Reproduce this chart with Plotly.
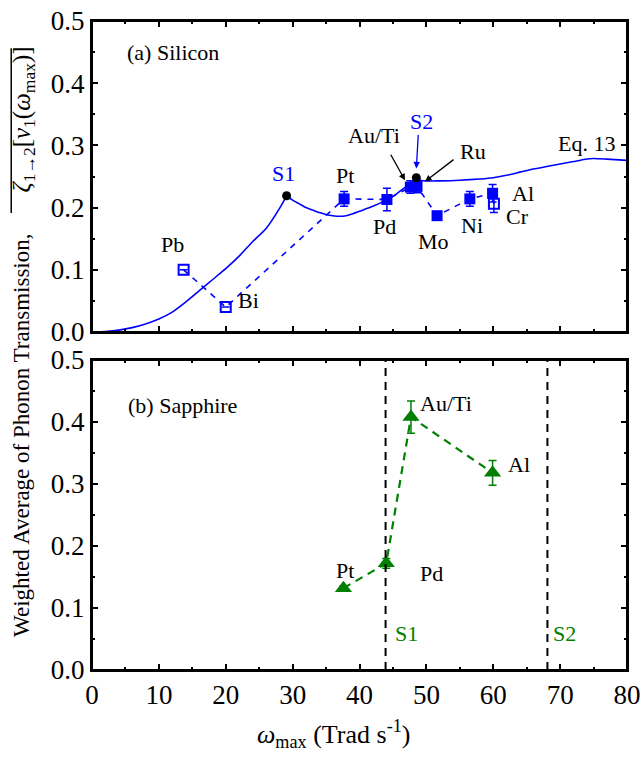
import plotly.graph_objects as go

FONT = "Liberation Serif, Times New Roman, serif"
BLUE = "#0000FF"
GREEN = "#008000"

# ---- (a) Silicon : Eq. 13 curve ----
curve_x = [0, 2, 4, 6, 8, 10, 12, 14, 16, 18, 20, 22, 24, 26, 28, 29.1, 30, 31, 32, 33, 34, 35, 36,
           37, 38, 39, 40, 42, 44, 45, 46, 47, 48, 48.5, 49, 50, 52, 55, 58, 60, 62, 64, 66, 68,
           70, 72, 74, 75, 77, 80]
curve_y = [0, 0.0008, 0.003, 0.007, 0.013, 0.021, 0.032, 0.048, 0.066, 0.084, 0.102, 0.122, 0.145,
           0.166, 0.198, 0.219, 0.212, 0.206, 0.200, 0.196, 0.192, 0.189, 0.187, 0.186, 0.187,
           0.190, 0.194, 0.202, 0.212, 0.218, 0.226, 0.234, 0.241, 0.247, 0.244, 0.243, 0.243,
           0.244, 0.246, 0.248, 0.252, 0.257, 0.262, 0.266, 0.270, 0.274, 0.278, 0.279, 0.278, 0.276]

# S1 / S2 points on the curve
s_x = [29.1, 48.5]
s_y = [0.219, 0.248]

# ---- (a) Silicon : measured metals ----
si_metals = ["Pb", "Bi", "Pt", "Pd", "Au/Ti", "Ru", "Mo", "Ni", "Al", "Cr"]
si_x = [13.7, 20.0, 37.7, 44.1, 47.6, 48.6, 51.6, 56.5, 59.9, 60.1]
si_y = [0.100, 0.040, 0.214, 0.213, 0.233, 0.234, 0.187, 0.214, 0.223, 0.206]
si_err = [0, 0, 0.012, 0.018, 0.010, 0.010, 0, 0.012, 0.014, 0.014]
si_open = [True, True, False, False, False, False, False, False, False, True]

# ---- (b) Sapphire ----
sa_metals = ["Pt", "Pd", "Au/Ti", "Al"]
sa_x = [37.6, 44.0, 47.7, 59.9]
sa_y = [0.132, 0.172, 0.408, 0.318]
sa_err = [0.004, 0.008, 0.026, 0.020]
sa_s_lines = [43.9, 68.1]

fig = go.Figure()

# Silicon curve, drawn as smooth pieces between the S points
i1 = curve_x.index(s_x[0])
i2 = curve_x.index(s_x[1])
for a, b in [(0, i1 + 1), (i1, i2 + 1), (i2, len(curve_x))]:
    fig.add_trace(go.Scatter(x=curve_x[a:b], y=curve_y[a:b], mode="lines",
                             line=dict(color=BLUE, width=1.6, shape="spline", smoothing=0.6),
                             xaxis="x", yaxis="y", showlegend=False, hoverinfo="skip"))
# dashed connection
fig.add_trace(go.Scatter(x=si_x, y=si_y, mode="lines",
                         line=dict(color=BLUE, width=1.6, dash="6px,6px"), xaxis="x", yaxis="y",
                         showlegend=False))
# filled squares
fx = [x for x, o in zip(si_x, si_open) if not o]
fy = [y for y, o in zip(si_y, si_open) if not o]
fe = [e for e, o in zip(si_err, si_open) if not o]
fig.add_trace(go.Scatter(x=fx, y=fy, mode="markers",
                         marker=dict(symbol="square", size=11, color=BLUE),
                         error_y=dict(type="data", array=fe, color=BLUE, thickness=1.5, width=4),
                         xaxis="x", yaxis="y", showlegend=False))
ox = [x for x, o in zip(si_x, si_open) if o]
oy = [y for y, o in zip(si_y, si_open) if o]
oe = [e for e, o in zip(si_err, si_open) if o]
fig.add_trace(go.Scatter(x=ox, y=oy, mode="markers",
                         marker=dict(symbol="square-open", size=10, color=BLUE, line=dict(width=2)),
                         error_y=dict(type="data", array=oe, color=BLUE, thickness=1.5, width=4),
                         xaxis="x", yaxis="y", showlegend=False))
# S points
fig.add_trace(go.Scatter(x=s_x, y=s_y, mode="markers",
                         marker=dict(symbol="circle", size=9, color="black"),
                         xaxis="x", yaxis="y", showlegend=False))

# Sapphire
fig.add_trace(go.Scatter(x=sa_x, y=sa_y, mode="lines+markers",
                         line=dict(color=GREEN, width=2.2, dash="8px,6px"),
                         marker=dict(symbol="triangle-up", size=15, color=GREEN),
                         error_y=dict(type="data", array=sa_err, color=GREEN, thickness=1.5, width=4),
                         xaxis="x2", yaxis="y2", showlegend=False))
for sx in sa_s_lines:
    fig.add_trace(go.Scatter(x=[sx, sx], y=[0, 0.5], mode="lines",
                             line=dict(color="black", width=2, dash="8px,6px"),
                             xaxis="x2", yaxis="y2", showlegend=False, hoverinfo="skip"))

ann = []
def txt(x, y, t, ax="x", ay="y", color="black", size=22, xanchor="center"):
    ann.append(dict(x=x, y=y, xref=ax, yref=ay, text=t, showarrow=False,
                    font=dict(family=FONT, size=size, color=color), xanchor=xanchor, yanchor="middle"))

txt(4.9, 0.449, "(a) Silicon", xanchor="left")
txt(28.7, 0.255, "S1", color=BLUE)
txt(49.3, 0.338, "S2", color=BLUE)
txt(12.1, 0.140, "Pb")
txt(23.4, 0.050, "Bi")
txt(37.8, 0.251, "Pt")
txt(43.8, 0.169, "Pd")
txt(42.1, 0.316, "Au/Ti")
txt(57.0, 0.290, "Ru")
txt(51.0, 0.145, "Mo")
txt(56.8, 0.172, "Ni")
txt(64.4, 0.223, "Al")
txt(63.6, 0.185, "Cr")
txt(74.0, 0.303, "Eq. 13")

# arrows
def arrow(x, y, axp, ayp, color):
    ann.append(dict(x=x, y=y, xref="x", yref="y", text="", showarrow=True, ax=axp, ay=ayp,
                    arrowhead=2, arrowsize=1, arrowwidth=1.3, arrowcolor=color))
arrow(46.8, 0.244, -15, -27, "black")
arrow(48.5, 0.263, 2, -35, BLUE)
arrow(49.8, 0.242, 30, -23, "black")

txt(5.1, 0.427, "(b) Sapphire", ax="x2", ay="y2", xanchor="left")
txt(37.8, 0.161, "Pt", ax="x2", ay="y2")
txt(50.8, 0.156, "Pd", ax="x2", ay="y2")
txt(53.0, 0.429, "Au/Ti", ax="x2", ay="y2")
txt(63.9, 0.331, "Al", ax="x2", ay="y2")
txt(47.0, 0.059, "S1", ax="x2", ay="y2", color=GREEN)
txt(70.7, 0.059, "S2", ax="x2", ay="y2", color=GREEN)

# y-axis title: plain part and formula part (with overline drawn as a shape)
ann.append(dict(x=-0.133, y=0.362, xref="paper", yref="paper", textangle=-90, showarrow=False,
                text="Weighted Average of Phonon Transmission,",
                font=dict(family=FONT, size=23, color="black"), xanchor="center", yanchor="middle"))
ann.append(dict(x=-0.128, y=0.8475, xref="paper", yref="paper", textangle=-90, showarrow=False,
                text="<i>ζ</i><sub>1→2</sub>[<i>v</i><sub>1</sub>(<i>ω</i><sub>max</sub>)]",
                font=dict(family=FONT, size=25, color="black"), xanchor="center", yanchor="middle"))
shapes = [dict(type="line", xref="paper", yref="paper", x0=-0.151, x1=-0.151,
               y0=0.704, y1=0.958, line=dict(color="black", width=1.5))]
# panel frames
for xr, yr in [("x domain", "y domain"), ("x2 domain", "y2 domain")]:
    shapes.append(dict(type="rect", xref=xr, yref=yr, x0=0, x1=1, y0=0, y1=1,
                       line=dict(color="black", width=2), layer="above"))

ann.append(dict(x=0.4505, y=-0.098, xref="paper", yref="paper", showarrow=False,
                text="<i>ω</i><sub>max</sub> (Trad s<sup>-1</sup>)",
                font=dict(family=FONT, size=26, color="black"), xanchor="center", yanchor="middle"))

axis_common = dict(showline=True, linewidth=2, linecolor="black", mirror="ticks", ticks="inside",
                   ticklen=6, tickwidth=1.5, tickcolor="black", showgrid=False, zeroline=False,
                   automargin=False, ticklabeloverflow="allow",
                   tickfont=dict(family=FONT, size=27, color="black"))

fig.update_layout(
    width=643, height=761,
    margin=dict(l=92, r=16, t=21, b=91, pad=0),
    paper_bgcolor="white", plot_bgcolor="white",
    xaxis=dict(domain=[0, 1], anchor="y", range=[0, 80], dtick=10, showticklabels=False,
               minor=dict(dtick=5, ticklen=3, ticks="inside", tickcolor="black", tickwidth=1.5),
               **axis_common),
    yaxis=dict(domain=[0.5208, 1], anchor="x", range=[0, 0.5], dtick=0.1, tickformat=".1f",
               minor=dict(dtick=0.05, ticklen=3, ticks="inside", tickcolor="black", tickwidth=1.5),
               **axis_common),
    xaxis2=dict(domain=[0, 1], anchor="y2", range=[0, 80], dtick=10,
                minor=dict(dtick=5, ticklen=3, ticks="inside", tickcolor="black", tickwidth=1.5),
                **axis_common),
    yaxis2=dict(domain=[0, 0.4777], anchor="x2", range=[0, 0.5], dtick=0.1, tickformat=".1f",
                minor=dict(dtick=0.05, ticklen=3, ticks="inside", tickcolor="black", tickwidth=1.5),
                **axis_common),
    annotations=ann,
    shapes=shapes,
)

# remove the default page margin so the figure sits at the window's top-left corner
fig.write_html("out.html", config={"displayModeBar": False},
               post_script="document.body.style.margin='0';document.body.style.overflow='hidden';")
